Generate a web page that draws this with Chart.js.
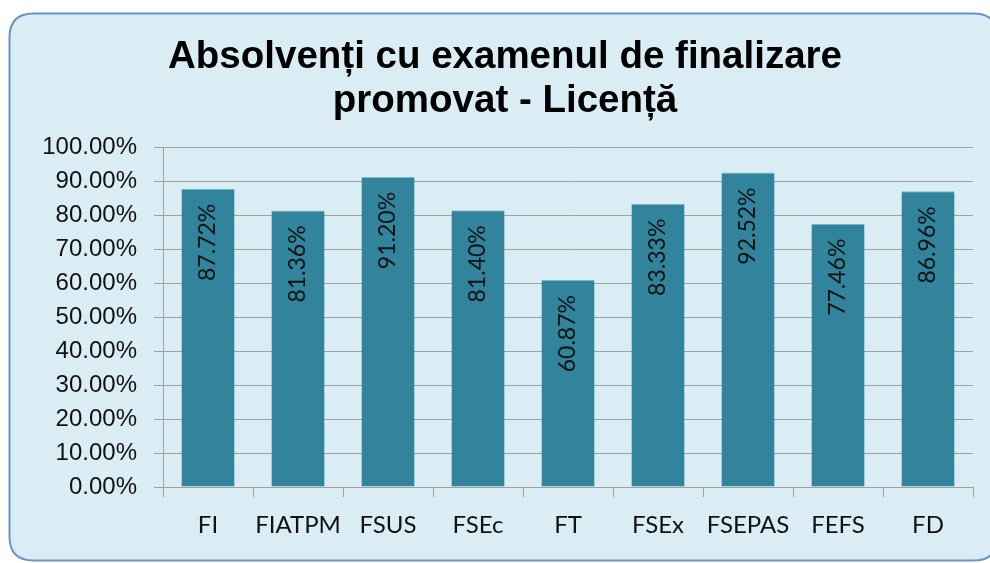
<!DOCTYPE html>
<html>
<head>
<meta charset="utf-8">
<script src="https://cdn.jsdelivr.net/npm/chart.js@4.4.1/dist/chart.umd.min.js"></script>
<style>
  html, body { margin: 0; padding: 0; background: #ffffff; }
  #wrap { width: 990px; height: 563px; position: relative; }
</style>
</head>
<body>
<div id="wrap"><canvas id="c" width="990" height="563"></canvas></div>
<script>
const categories = ['FI', 'FIATPM', 'FSUS', 'FSEc', 'FT', 'FSEx', 'FSEPAS', 'FEFS', 'FD'];
const values = [87.72, 81.36, 91.20, 81.40, 60.87, 83.33, 92.52, 77.46, 86.96];
const titleLines = ['Absolvenți cu examenul de finalizare', 'promovat - Licență'];
const yMin = 0, yMax = 100, yStep = 10;

const boxPlugin = {
  id: 'boxBg',
  beforeDraw(chart) {
    const ctx = chart.ctx;
    const x = 9.5, y = 13.5, w = 988, h = 547, r = 24;
    ctx.save();
    ctx.fillStyle = '#ffffff';
    ctx.fillRect(0, 0, chart.width, chart.height);
    ctx.beginPath();
    ctx.moveTo(x + r, y);
    ctx.lineTo(x + w - r, y);
    ctx.quadraticCurveTo(x + w, y, x + w, y + r);
    ctx.lineTo(x + w, y + h - r);
    ctx.quadraticCurveTo(x + w, y + h, x + w - r, y + h);
    ctx.lineTo(x + r, y + h);
    ctx.quadraticCurveTo(x, y + h, x, y + h - r);
    ctx.lineTo(x, y + r);
    ctx.quadraticCurveTo(x, y, x + r, y);
    ctx.closePath();
    ctx.fillStyle = '#dbedf4';
    ctx.fill();
    ctx.lineWidth = 2;
    ctx.strokeStyle = '#6a93cc';
    ctx.stroke();
    ctx.restore();
  }
};

const labelPlugin = {
  id: 'barLabels',
  afterDatasetsDraw(chart) {
    const ctx = chart.ctx;
    const meta = chart.getDatasetMeta(0);
    ctx.save();
    ctx.font = '23px Lato';
    ctx.fillStyle = '#111111';
    ctx.textAlign = 'right';
    ctx.textBaseline = 'middle';
    meta.data.forEach((bar, i) => {
      ctx.save();
      ctx.translate(bar.x, bar.y + 15);
      ctx.rotate(-Math.PI / 2);
      ctx.fillText(values[i].toFixed(2) + '%', 0, 0);
      ctx.restore();
    });
    ctx.restore();
  }
};

new Chart(document.getElementById('c'), {
  type: 'bar',
  data: {
    labels: categories,
    datasets: [{
      data: values,
      backgroundColor: '#31849b',
      borderColor: '#7fb7c8',
      borderWidth: { top: 1, left: 0, right: 0, bottom: 0 },
      borderSkipped: 'bottom',
      categoryPercentage: 1.0,
      barPercentage: 0.59
    }]
  },
  options: {
    responsive: false,
    animation: false,
    devicePixelRatio: 1,
    layout: { padding: { left: 37, right: 17, top: 0, bottom: 0 } },
    plugins: {
      legend: { display: false },
      tooltip: { enabled: false },
      title: {
        display: true,
        text: titleLines,
        color: '#000000',
        font: { family: 'Liberation Sans', size: 38.5, weight: 'bold', lineHeight: 1.13 },
        padding: { top: 36, bottom: 24 }
      }
    },
    scales: {
      x: {
        offset: true,
        grid: { display: true, drawOnChartArea: false, drawTicks: true, tickLength: 10, color: '#a0a0a0', offset: true },
        border: { display: true, color: '#a0a0a0', width: 1 },
        ticks: { color: '#111111', font: { family: 'Lato', size: 24 }, padding: 14, maxRotation: 0, autoSkip: false },
        afterFit(scale) { scale.height = 76; }
      },
      y: {
        min: yMin, max: yMax,
        grid: { color: '#a0a0a0', tickLength: 9, lineWidth: 1 },
        border: { display: true, color: '#a0a0a0', width: 1 },
        ticks: {
          stepSize: yStep,
          color: '#111111',
          font: { family: 'Liberation Sans', size: 24 },
          padding: 17,
          callback: v => v.toFixed(2) + '%'
        },
        afterFit(scale) { scale.width = 126; }
      }
    }
  },
  plugins: [boxPlugin, labelPlugin]
});
</script>
</body>
</html>
